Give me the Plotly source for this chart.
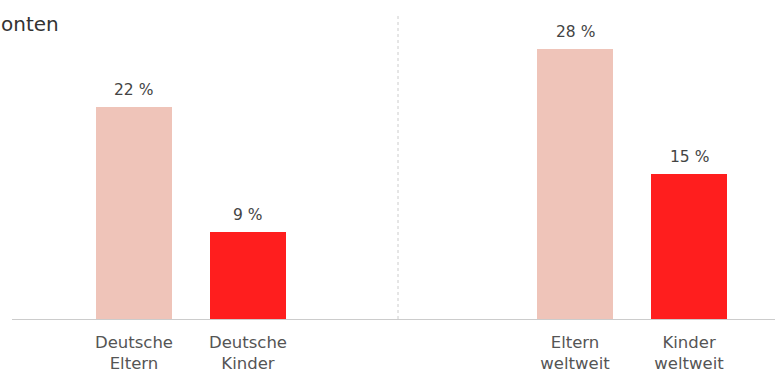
import plotly.graph_objects as go
from plotly.subplots import make_subplots

# Share of respondents, German vs. worldwide
groups_de = ["Deutsche<br>Eltern", "Deutsche<br>Kinder"]
values_de = [22, 9]
groups_world = ["Eltern<br>weltweit", "Kinder<br>weltweit"]
values_world = [28, 15]
bar_colors = ["#efc4b9", "#ff1e1e"]
title_text = "onten"

FONT = "DejaVu Sans"
fig = make_subplots(rows=1, cols=2, column_widths=[386, 377], horizontal_spacing=0)

for col, (cats, vals) in enumerate([(groups_de, values_de), (groups_world, values_world)], start=1):
    fig.add_trace(
        go.Bar(x=cats, y=vals, marker=dict(color=bar_colors, line=dict(width=0)),
               width=0.667, showlegend=False, hoverinfo="skip"),
        row=1, col=col,
    )
    xref = "x" if col == 1 else "x2"
    yref = "y" if col == 1 else "y2"
    for c, v in zip(cats, vals):
        fig.add_annotation(x=c, y=v, xref=xref, yref=yref, text=f"{v} %",
                           showarrow=False, yanchor="bottom", yshift=6,
                           font=dict(family=FONT, size=15.5, color="#444444"))

axis_common = dict(showline=True, linecolor="#cccccc", linewidth=1, ticks="",
                   showgrid=False, zeroline=False, ticklabelstandoff=8,
                   tickfont=dict(family=FONT, size=16.5, color="#555555"))
fig.update_xaxes(**axis_common)
fig.update_xaxes(range=[-1.070, 2.316], row=1, col=1)
fig.update_xaxes(range=[-1.553, 1.754], row=1, col=2)
fig.update_yaxes(range=[0, 31.5], visible=False, showgrid=False)

# dotted divider between the two groups
fig.add_shape(type="line", xref="paper", yref="paper", x0=386 / 763, x1=386 / 763,
              y0=0, y1=1, line=dict(color="#cccccc", width=1, dash="dot"))

fig.add_annotation(xref="paper", yref="paper", x=-13 / 763, y=1, xanchor="left",
                   yanchor="middle", yshift=-9, text=title_text, showarrow=False,
                   font=dict(family=FONT, size=20, color="#333333"))

fig.update_layout(width=775, height=373, margin=dict(l=12, r=0, t=15, b=54),
                  plot_bgcolor="white", paper_bgcolor="white", bargap=0)

fig.write_html("out.html")
